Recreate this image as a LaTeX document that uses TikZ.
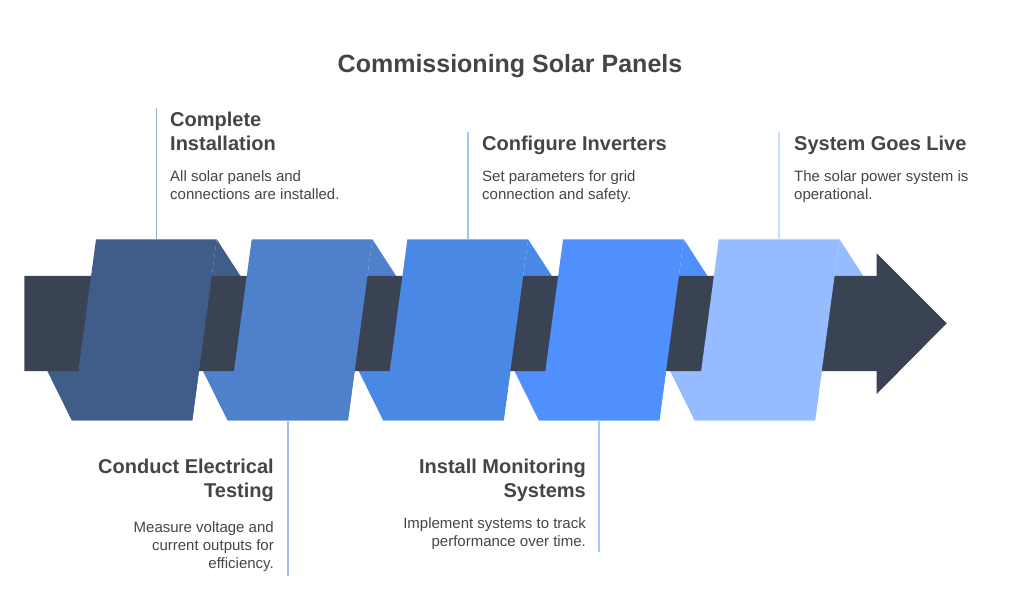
\documentclass[tikz,border=0pt]{standalone}
\usepackage{fontspec}
\setmainfont{Liberation Sans}
\definecolor{txt}{HTML}{454545}
\definecolor{dark}{HTML}{3A4354}
\definecolor{bA}{HTML}{405C88}
\definecolor{bB}{HTML}{4F80CC}
\definecolor{bC}{HTML}{4A88E6}
\definecolor{bD}{HTML}{4F90FE}
\definecolor{bE}{HTML}{94BCFE}
\tikzset{
  ttl/.style={font=\fontsize{25}{30}\selectfont\bfseries, text=txt, inner sep=0},
  hd/.style={font=\fontsize{20}{24}\selectfont\bfseries, text=txt, inner sep=0},
  bd/.style={font=\fontsize{15}{18}\selectfont, text=txt, inner sep=0},
  conn/.style={line width=1.6pt},
}
\begin{document}
\begin{tikzpicture}[x=1pt,y=-1pt]
\useasboundingbox (0,0) rectangle (1020,612);
% back faces
\foreach \i/\c in {0/bA,1/bB,2/bC,3/bD,4/bE}{
  \pgfmathsetmacro{\o}{155.7*\i}
  \fill[\c] ({216.7+\o},239.3) -- ({240.5+\o},276) -- ({47.3+\o},371) -- ({71.7+\o},420.3) -- ({192.3+\o},420.3) -- cycle;
}
% dark arrow
\fill[dark] (24.3,276) -- (876.7,276) -- (876.7,253.3) -- (946.7,323.3) -- (876.7,394) -- (876.7,371) -- (24.3,371) -- cycle;
% front faces
\foreach \i/\c in {0/bA,1/bB,2/bC,3/bD,4/bE}{
  \pgfmathsetmacro{\o}{155.7*\i}
  \fill[\c] ({96+\o},239.3) -- ({216.7+\o},239.3) -- ({192.3+\o},420.3) -- ({71.7+\o},420.3) -- cycle;
}
% connector end points
\coordinate (p1) at (156.3,239.3);
\coordinate (q1) at (156.3,108);
\coordinate (p2) at (287.7,420.3);
\coordinate (q2) at (287.7,576);
\coordinate (p3) at (467.7,239.3);
\coordinate (q3) at (467.7,132);
\coordinate (p4) at (599.1,420.3);
\coordinate (q4) at (599.1,552);
\coordinate (p5) at (779.1,239.3);
\coordinate (q5) at (779.1,132);
\draw[conn, bA!50!white] (p1) -- (q1);
\draw[conn, bB!50!white] (p2) -- (q2);
\draw[conn, bC!50!white] (p3) -- (q3);
\draw[conn, bD!50!white] (p4) -- (q4);
\draw[conn, bE!50!white] (p5) -- (q5);
% title
\node[ttl, anchor=base] (title) at (510,73) {Commissioning Solar Panels};
% step 1
\node[hd, anchor=base west] (h1a) at (170,127) {Complete};
\node[hd, anchor=base west] (h1b) at (170,151) {Installation};
\node[bd, anchor=base west] (t1a) at (170,181.5) {All solar panels and};
\node[bd, anchor=base west] (t1b) at (170,199.5) {connections are installed.};
% step 3
\node[hd, anchor=base west] (h3) at (482,151) {Configure Inverters};
\node[bd, anchor=base west] (t3a) at (482,181.5) {Set parameters for grid};
\node[bd, anchor=base west] (t3b) at (482,199.5) {connection and safety.};
% step 5
\node[hd, anchor=base west] (h5) at (794,151) {System Goes Live};
\node[bd, anchor=base west] (t5a) at (794,181.5) {The solar power system is};
\node[bd, anchor=base west] (t5b) at (794,199.5) {operational.};
% step 2
\node[hd, anchor=base east] (h2a) at (274,473.5) {Conduct Electrical};
\node[hd, anchor=base east] (h2b) at (274,497.5) {Testing};
\node[bd, anchor=base east] (t2a) at (274,532) {Measure voltage and};
\node[bd, anchor=base east] (t2b) at (274,550) {current outputs for};
\node[bd, anchor=base east] (t2c) at (274,568) {efficiency.};
% step 4
\node[hd, anchor=base east] (h4a) at (586,473.5) {Install Monitoring};
\node[hd, anchor=base east] (h4b) at (586,497.5) {Systems};
\node[bd, anchor=base east] (t4a) at (586,528) {Implement systems to track};
\node[bd, anchor=base east] (t4b) at (586,546) {performance over time.};
\end{tikzpicture}
\end{document}
